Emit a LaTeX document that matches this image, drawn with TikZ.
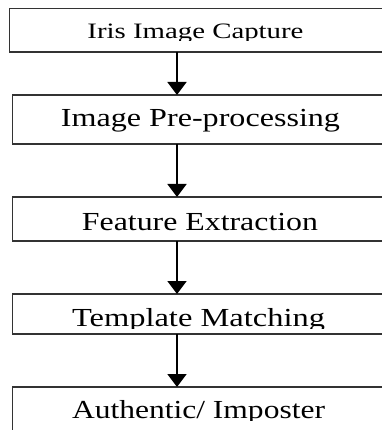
\documentclass[tikz,border=0pt]{standalone}
\usepackage{fontspec}
\setmainfont{Liberation Serif}
\usetikzlibrary{arrows.meta}
\definecolor{boxline}{HTML}{333333}
\begin{document}
\begin{tikzpicture}[x=1pt,y=-1pt,
  box/.style={draw=boxline,line width=1.6pt,rectangle,minimum width=420pt,anchor=north west,inner sep=0pt,outer sep=0pt},
  lbl/.style={anchor=base,inner sep=0pt,outer sep=0pt,text=black},
  arr/.style={draw=black,line width=1.8pt,-{Triangle[width=19pt,length=13pt]}}]
\useasboundingbox (0,0) rectangle (381,430);
\node[box,minimum height=43.5pt] (b1) at (9.5,8.5) {};
\node[box,minimum height=49pt] (b2) at (12.5,95) {};
\node[box,minimum height=44pt] (b3) at (12.5,197) {};
\node[box,minimum height=40pt] (b4) at (12.5,294) {};
\node[box,minimum height=70pt] (b5) at (12.5,387) {};
\coordinate (ax) at (177,0);
\begin{scope}
\clip (0,10) rectangle (381,40.5);
\node[lbl] (t1) at (195.5,38.5) {\fontsize{22}{22}\selectfont\resizebox{216pt}{\height}{Iris Image Capture}};
\end{scope}
\node[lbl] (t2) at (200.5,126.7) {\fontsize{26}{26}\selectfont\resizebox{279pt}{\height}{Image Pre-processing}};
\node[lbl] (t3) at (200,230) {\fontsize{26}{26}\selectfont\resizebox{236pt}{\height}{Feature Extraction}};
\begin{scope}
\clip (0,296) rectangle (381,328);
\node[lbl] (t4) at (198.5,326.5) {\fontsize{26}{26}\selectfont\resizebox{253pt}{\height}{Template Matching}};
\end{scope}
\begin{scope}
\clip (0,389) rectangle (381,420);
\node[lbl] (t5) at (198.5,418) {\fontsize{26}{26}\selectfont\resizebox{253pt}{\height}{Authentic/ Imposter}};
\end{scope}
\draw[arr] (b1.south -| ax) -- (b2.north -| ax);
\draw[arr] (b2.south -| ax) -- (b3.north -| ax);
\draw[arr] (b3.south -| ax) -- (b4.north -| ax);
\draw[arr] (b4.south -| ax) -- (b5.north -| ax);
\end{tikzpicture}
\end{document}
